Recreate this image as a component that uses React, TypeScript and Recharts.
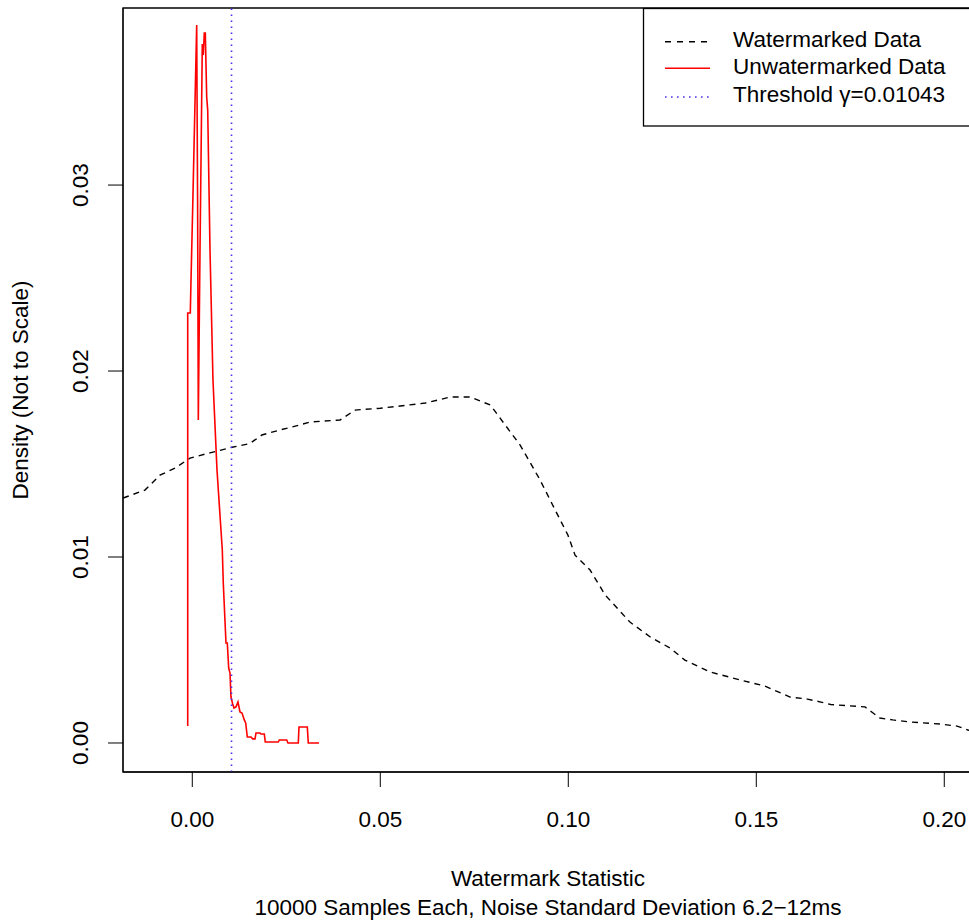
import React from 'react';
import { LineChart, Line, XAxis, YAxis, ReferenceLine, ReferenceArea, Label } from 'recharts';

// ---- Data ----
const watermarkedX = [
  -0.0184, -0.0126, -0.0086, -0.0046, -0.0006, 0.0047, 0.0106, 0.0153, 0.0185, 0.0233,
  0.0286, 0.0313, 0.0393, 0.0433, 0.05, 0.0553, 0.062, 0.0686, 0.0739, 0.0793,
  0.0832, 0.0872, 0.0925, 0.0965, 0.0999, 0.1018, 0.1058, 0.1098, 0.1164, 0.1218,
  0.1271, 0.131, 0.1377, 0.1457, 0.1523, 0.159, 0.1636, 0.1672, 0.1698, 0.1789,
  0.1808, 0.1829, 0.1863, 0.1909, 0.1988, 0.2034, 0.2063, 0.21,
];
const watermarkedY = [
  0.01317, 0.0136, 0.0144, 0.01478, 0.01532, 0.0156, 0.0159, 0.0161, 0.01656, 0.01683,
  0.0171, 0.01726, 0.01737, 0.0179, 0.018, 0.01812, 0.01828, 0.0186, 0.0186, 0.01817,
  0.0171, 0.01602, 0.01414, 0.01253, 0.01118, 0.0101, 0.0093, 0.00796, 0.0065, 0.0057,
  0.0051, 0.00446, 0.00382, 0.00339, 0.00306, 0.00247, 0.00236, 0.0022, 0.00207, 0.00194,
  0.00165, 0.00134, 0.00124, 0.00113, 0.00102, 0.00091, 0.0007, 0.0005,
];

const unwatermarkedX = [
  -0.00122, -0.00122, -0.00053, -0.0004, 0.00011, 0.00117, 0.00141, 0.0016, 0.00205, 0.00266,
  0.00293, 0.00319, 0.00346, 0.00383, 0.0041, 0.00471, 0.0055, 0.00657, 0.00798, 0.00824,
  0.00896, 0.00931, 0.00968, 0.01003, 0.01029, 0.01074, 0.01109, 0.01162, 0.01215, 0.01269,
  0.01322, 0.01383, 0.0142, 0.01463, 0.01561, 0.01606, 0.01668, 0.01694, 0.018, 0.01827,
  0.01915, 0.01941, 0.02287, 0.02314, 0.02511, 0.02545, 0.02819, 0.02838, 0.03059, 0.03085,
  0.0337,
];
const unwatermarkedY = [
  0.00091, 0.02312, 0.02312, 0.02435, 0.02882, 0.0386, 0.02919, 0.01737, 0.0265, 0.03758,
  0.03699, 0.03817, 0.03817, 0.03473, 0.03403, 0.0265, 0.01952, 0.01468, 0.01038, 0.0086,
  0.00538, 0.00538, 0.00403, 0.00376, 0.00247, 0.0021, 0.00188, 0.00194, 0.0022, 0.00167,
  0.00161, 0.00124, 0.00108, 0.00032, 0.00032, 0.00022, 0.00022, 0.00054, 0.00054, 0.00048,
  0.00048, 0.00005, 0.00005, 0.00016, 0.00016, 0, 0, 0.00086, 0.00086, 0,
  0,
];

const thresholdValue = 0.01043;

const xTicks = [0, 0.05, 0.1, 0.15, 0.2];
const xTickLabels = ['0.00', '0.05', '0.10', '0.15', '0.20'];
const yTicks = [0, 0.01, 0.02, 0.03];
const yTickLabels = ['0.00', '0.01', '0.02', '0.03'];

const seriesNames = ['Watermarked Data', 'Unwatermarked Data', 'Threshold \u03b3=0.01043'];
const xAxisTitle = 'Watermark Statistic';
const subTitle = '10000 Samples Each, Noise Standard Deviation 6.2\u221212ms';
const yAxisTitle = 'Density (Not to Scale)';

// axis ranges
const xDomain = [-0.01843, 0.2095];
const yDomain = [-0.00156, 0.03952];

const watermarkedData = watermarkedX.map((x, i) => ({ x, y: watermarkedY[i] }));
const unwatermarkedData = unwatermarkedX.map((x, i) => ({ x, y: unwatermarkedY[i] }));

const FONT = '"Liberation Sans", Arial, Helvetica, sans-serif';
const FS = 22.5;
const THRESH_COLOR = '#4f2cf0';

const XTick = (props: any) => {
  const { x, y, payload } = props;
  const idx = xTicks.indexOf(payload.value);
  return (
    <text x={x} y={y + 40} textAnchor="middle" fontFamily={FONT} fontSize={FS} fill="#000">
      {idx >= 0 ? xTickLabels[idx] : payload.value}
    </text>
  );
};

const YTick = (props: any) => {
  const { x, y, payload } = props;
  const idx = yTicks.indexOf(payload.value);
  const tx = x - 20;
  return (
    <text
      x={tx}
      y={y}
      textAnchor="middle"
      transform={`rotate(-90, ${tx}, ${y})`}
      fontFamily={FONT}
      fontSize={FS}
      fill="#000"
    >
      {idx >= 0 ? yTickLabels[idx] : payload.value}
    </text>
  );
};

export default function App() {
  return (
    <div
      style={{
        position: 'fixed',
        left: 0,
        top: 0,
        width: 969,
        height: 924,
        overflow: 'hidden',
        background: '#fff',
      }}
    >
      <LineChart
        width={980}
        height={924}
        margin={{ top: 8, right: 0, bottom: 0, left: 0 }}
      >
        <XAxis
          dataKey="x"
          type="number"
          domain={xDomain}
          allowDataOverflow
          ticks={xTicks}
          tick={<XTick />}
          tickSize={15}
          tickMargin={0}
          height={152}
          stroke="#000"
          axisLine={{ stroke: '#000' }}
          tickLine={{ stroke: '#000' }}
          interval={0}
        >
          <Label
            content={() => (
              <g>
                <text x={548} y={886} textAnchor="middle" fontFamily={FONT} fontSize={FS} fill="#000">
                  {xAxisTitle}
                </text>
                <text x={548} y={915} textAnchor="middle" fontFamily={FONT} fontSize={FS} fill="#000">
                  {subTitle}
                </text>
              </g>
            )}
          />
        </XAxis>
        <YAxis
          dataKey="y"
          type="number"
          domain={yDomain}
          allowDataOverflow
          ticks={yTicks}
          tick={<YTick />}
          tickSize={15}
          tickMargin={0}
          width={123}
          stroke="#000"
          axisLine={{ stroke: '#000' }}
          tickLine={{ stroke: '#000' }}
          interval={0}
        >
          <Label
            content={() => (
              <text
                x={28}
                y={390}
                textAnchor="middle"
                transform="rotate(-90, 28, 390)"
                fontFamily={FONT}
                fontSize={FS}
                fill="#000"
              >
                {yAxisTitle}
              </text>
            )}
          />
        </YAxis>
        <ReferenceArea
          x1={xDomain[0]}
          x2={xDomain[1]}
          y1={yDomain[0]}
          y2={yDomain[1]}
          fill="none"
          fillOpacity={0}
          stroke="#000"
          strokeWidth={1.3}
          ifOverflow="visible"
        />
        <Line
          data={watermarkedData}
          dataKey="y"
          type="linear"
          stroke="#000"
          strokeWidth={1.4}
          strokeDasharray="6 5"
          dot={false}
          activeDot={false}
          isAnimationActive={false}
        />
        <Line
          data={unwatermarkedData}
          dataKey="y"
          type="linear"
          stroke="#ff0000"
          strokeWidth={1.6}
          dot={false}
          activeDot={false}
          isAnimationActive={false}
        />
        <ReferenceLine
          x={thresholdValue}
          stroke={THRESH_COLOR}
          strokeWidth={1.6}
          strokeDasharray="1.6 4.4"
        />
      </LineChart>
      <svg
        width={969}
        height={140}
        style={{ position: 'absolute', left: 0, top: 0, pointerEvents: 'none' }}
      >
        <rect x={643.5} y={8.5} width={400} height={117.5} fill="#fff" stroke="#000" strokeWidth={1.3} />
        <line x1={665} x2={710} y1={41.7} y2={41.7} stroke="#000" strokeWidth={1.4} strokeDasharray="6 6" />
        <line x1={665} x2={710} y1={68.3} y2={68.3} stroke="#ff0000" strokeWidth={1.6} />
        <line x1={665} x2={710} y1={97} y2={97} stroke={THRESH_COLOR} strokeWidth={1.6} strokeDasharray="1.6 4.4" />
        <text x={733} y={47} fontFamily={FONT} fontSize={FS} fill="#000">{seriesNames[0]}</text>
        <text x={733} y={74.3} fontFamily={FONT} fontSize={FS} fill="#000">{seriesNames[1]}</text>
        <text x={733} y={101.6} fontFamily={FONT} fontSize={FS} fill="#000">{seriesNames[2]}</text>
      </svg>
    </div>
  );
}
